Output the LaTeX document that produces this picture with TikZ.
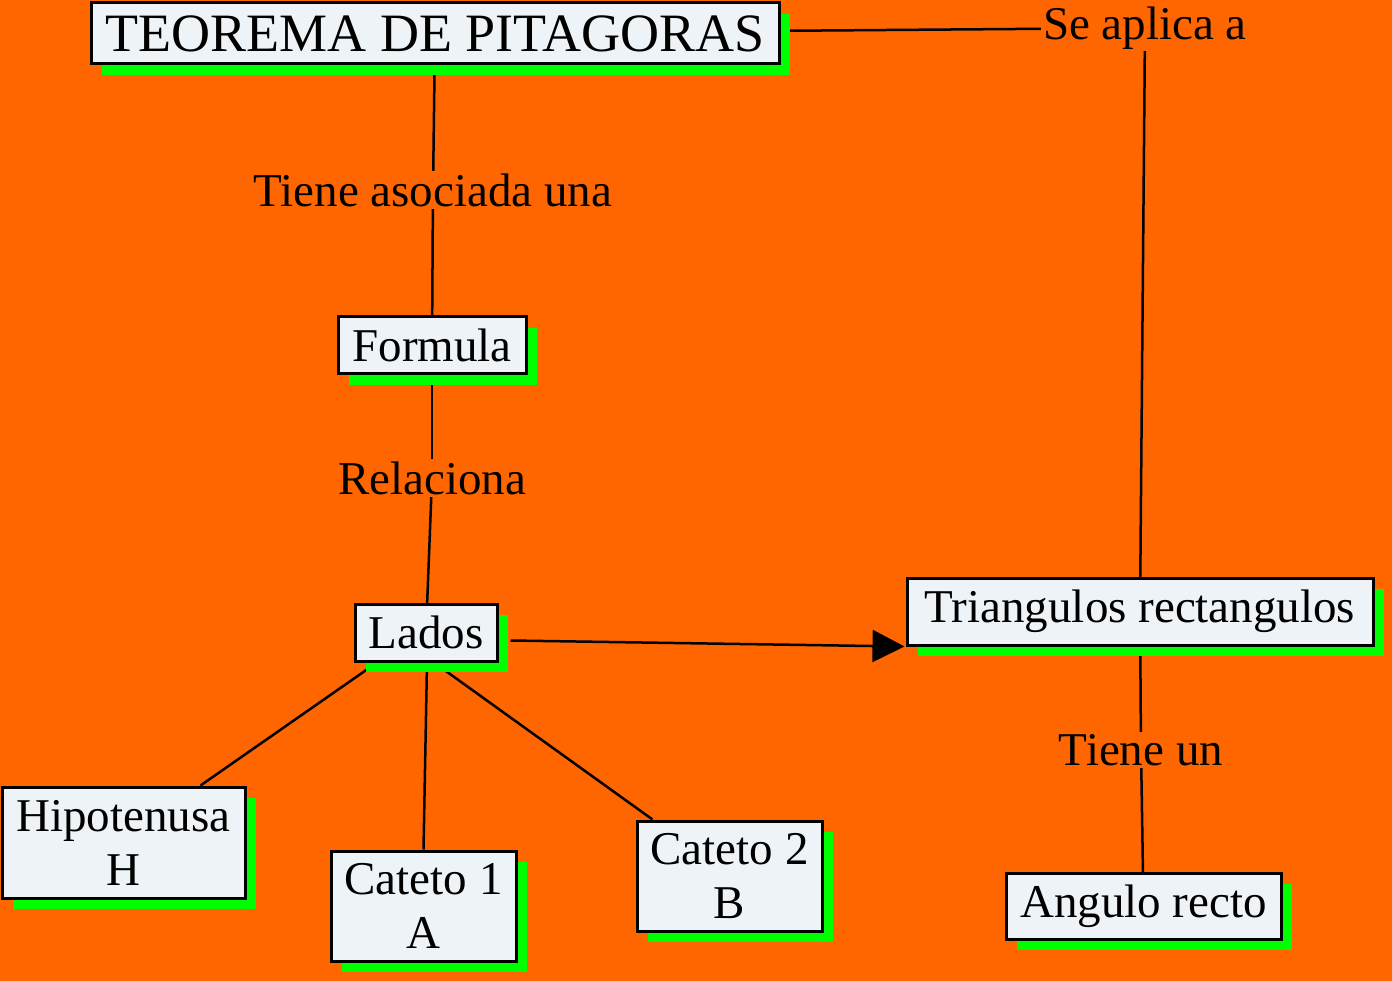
\documentclass[tikz,border=0pt]{standalone}
\usepackage{fontspec}
\setmainfont{Liberation Serif}
\usetikzlibrary{shadows,arrows.meta,calc,backgrounds}
\definecolor{bgorange}{HTML}{FF6600}
\definecolor{boxfill}{HTML}{EDF3F6}
\definecolor{shadowgreen}{HTML}{00FF00}
\begin{document}
\begin{tikzpicture}[x=1pt,y=-1pt,
  concept/.style={draw=black, line width=3pt, fill=boxfill, inner sep=0pt, align=center,
    font=\fontsize{47}{54}\selectfont,
    drop shadow={shadow xshift=11pt, shadow yshift=-11pt, fill=shadowgreen, opacity=1}},
  linklabel/.style={fill=bgorange, inner sep=2pt, font=\fontsize{47}{54}\selectfont},
  conn/.style={line width=2.5pt, draw=black},
  arrowconn/.style={conn, -{Triangle[length=32pt,width=32pt]}}]
\useasboundingbox (0,0) rectangle (1392,981);

% concept boxes
\node[concept, minimum width=688pt, minimum height=61pt, font=\fontsize{54}{60}\selectfont] (teo) at (435,33.5) {TEOREMA DE PITAGORAS};
\node[concept, minimum width=188pt, minimum height=57pt] (formula) at (432,345.5) {Formula};
\node[concept, minimum width=142pt, minimum height=57pt] (lados) at (426,632.5) {Lados};
\node[concept, minimum width=466pt, minimum height=67pt] (tri) at (1140,611.5) {Triangulos rectangulos};
\node[concept, minimum width=243pt, minimum height=111pt] (hip) at (123.5,842.5) {Hipotenusa\\H};
\node[concept, minimum width=185pt, minimum height=110pt] (cat1) at (423.5,906) {Cateto 1\\A};
\node[concept, minimum width=185pt, minimum height=110pt] (cat2) at (729.5,876) {Cateto 2\\B};
\node[concept, minimum width=275pt, minimum height=66pt] (ang) at (1143.5,906) {Angulo recto};

% link labels
\node[linklabel] (se) at (1145,28) {Se aplica a};
\node[linklabel] (tas) at (433,190) {Tiene asociada una};
\node[linklabel] (rel) at (432,478) {Relaciona};
\node[linklabel] (tu) at (1141,750) {Tiene un};

% arrow on top
\draw[arrowconn] ($(lados.east)+(12,8)$) -- ($(tri.south west)+(-1,0)$);

\begin{scope}[on background layer]
  \fill[bgorange] (0,0) rectangle (1392,981);
  \draw[conn] (teo.center) -- (se.center);
  \draw[conn] (se.center) -- (tri.center);
  \draw[conn] (teo.center) -- (tas.center);
  \draw[conn] (tas.center) -- (formula.center);
  \draw[conn] (formula.center) -- (rel.center);
  \draw[conn] (rel.center) -- (lados.center);
  \draw[conn] ([xshift=-49pt]lados.south) -- ([xshift=77pt]hip.north);
  \draw[conn] ([xshift=1pt]lados.south) -- (cat1.north);
  \draw[conn] ([xshift=8pt]lados.south) -- ([xshift=-77pt]cat2.north);
  \draw[conn] (tri.center) -- (tu.center);
  \draw[conn] (tu.center) -- (ang.center);
\end{scope}
\end{tikzpicture}
\end{document}
